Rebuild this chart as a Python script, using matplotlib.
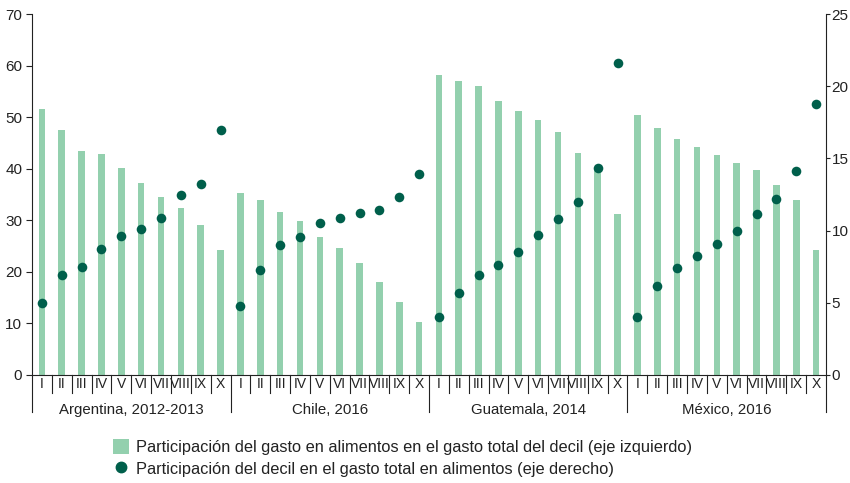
import numpy as np
import matplotlib
matplotlib.use('Agg')
from matplotlib import pyplot as plt
from matplotlib.patches import Patch
from matplotlib.lines import Line2D
import matplotlib.transforms as mtransforms

plt.rcParams['font.family'] = ['Liberation Sans', 'DejaVu Sans']

countries = ['Argentina, 2012-2013', 'Chile, 2016', 'Guatemala, 2014', 'México, 2016']
deciles = ['I', 'II', 'III', 'IV', 'V', 'VI', 'VII', 'VIII', 'IX', 'X']

# participación del gasto en alimentos en el gasto total del decil (eje izquierdo)
food_share_arg = [51.6, 47.5, 43.4, 42.8, 40.1, 37.2, 34.6, 32.4, 29.1, 24.2]
food_share_chl = [35.3, 33.9, 31.6, 29.8, 26.8, 24.6, 21.7, 18.0, 14.2, 10.2]
food_share_gtm = [58.2, 57.1, 56.0, 53.1, 51.2, 49.4, 47.1, 43.0, 39.8, 31.2]
food_share_mex = [50.5, 47.9, 45.7, 44.2, 42.7, 41.2, 39.8, 36.8, 33.9, 24.2]

# participación del decil en el gasto total en alimentos (eje derecho)
decile_share_arg = [5.0, 6.9, 7.5, 8.7, 9.6, 10.1, 10.9, 12.5, 13.25, 17.0]
decile_share_chl = [4.8, 7.3, 9.0, 9.55, 10.5, 10.9, 11.2, 11.45, 12.35, 13.9]
decile_share_gtm = [4.0, 5.7, 6.9, 7.6, 8.5, 9.7, 10.8, 12.0, 14.35, 21.6]
decile_share_mex = [4.0, 6.15, 7.4, 8.25, 9.05, 9.95, 11.15, 12.2, 14.1, 18.8]

bar_vals = food_share_arg + food_share_chl + food_share_gtm + food_share_mex
dot_vals = decile_share_arg + decile_share_chl + decile_share_gtm + decile_share_mex

bar_color = '#93d0ae'
dot_color = '#005f4b'
ink = '#222222'

fig = plt.figure(figsize=(8.5, 4.83), dpi=100)
ax = fig.add_axes([32 / 850, 108 / 483, 794 / 850, 361 / 483])
ax2 = ax.twinx()

x = np.arange(len(bar_vals))
ax.bar(x, bar_vals, width=0.33, color=bar_color, zorder=2)
ax2.scatter(x, dot_vals, s=48, color=dot_color, zorder=3, linewidths=0)

ax.set_xlim(-0.5, len(bar_vals) - 0.5)
ax.set_ylim(0, 70)
ax2.set_ylim(0, 25)
ax.set_yticks(range(0, 71, 10))
ax2.set_yticks(range(0, 26, 5))

for a in (ax, ax2):
    a.spines['top'].set_visible(False)
    a.set_xticks([])
ax.tick_params(axis='y', labelsize=11, length=4, width=0.8, pad=3, colors=ink)
ax2.tick_params(axis='y', labelsize=11, length=3, width=0.8, pad=1, colors=ink)
ax.spines['right'].set_visible(False)
ax2.spines['left'].set_visible(False)
ax2.spines['right'].set_color(ink)
ax.spines['left'].set_color(ink)
ax.spines['bottom'].set_color(ink)
ax2.spines['bottom'].set_visible(False)

# category labels below the axis
trans = mtransforms.blended_transform_factory(ax.transData, ax.transAxes)
short = 18 / 361
long = 37 / 361
for i in range(len(bar_vals)):
    ax.text(i, -9 / 361, deciles[i % 10], transform=trans, ha='center', va='center',
            fontsize=10, color=ink)
for b in range(1, len(bar_vals)):
    depth = long if b % 10 == 0 else short
    ax.plot([b - 0.5, b - 0.5], [0, -depth], transform=trans, color=ink,
            lw=0.8, clip_on=False)
for b in (0, len(bar_vals)):
    ax.plot([b - 0.5, b - 0.5], [0, -long], transform=trans, color=ink,
            lw=0.8, clip_on=False)
for g, name in enumerate(countries):
    ax.text(g * 10 + 4.5, -35 / 361, name, transform=trans, ha='center', va='center',
            fontsize=10.8, color=ink)

handles = [
    Patch(facecolor=bar_color, edgecolor='none',
          label='Participación del gasto en alimentos en el gasto total del decil (eje izquierdo)'),
    Line2D([], [], marker='o', linestyle='none', markersize=7.5, color=dot_color,
           label='Participación del decil en el gasto total en alimentos (eje derecho)'),
]
fig.legend(handles=handles, loc='upper left', bbox_to_anchor=(113 / 850, 1 - 439 / 483),
           frameon=False, fontsize=11.8, labelcolor=ink, handlelength=1.0, handleheight=1.0,
           handletextpad=0.4, labelspacing=0.35, borderpad=0, borderaxespad=0)

fig.savefig('out.png', dpi=100)
